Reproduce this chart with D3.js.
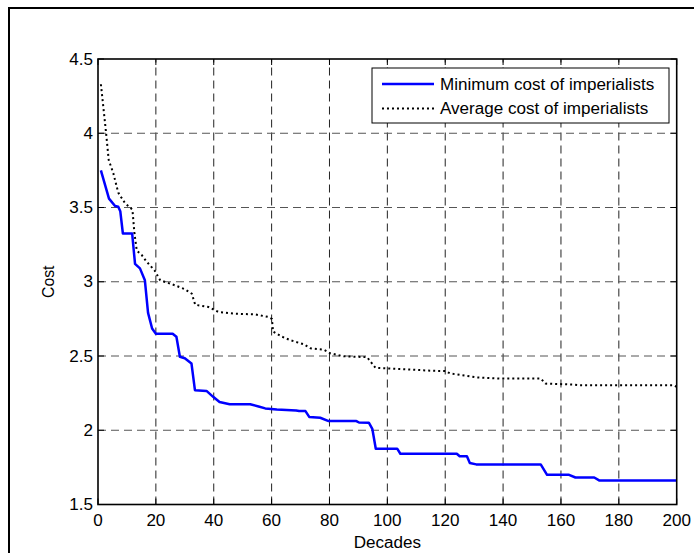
<!DOCTYPE html>
<html>
<head>
<meta charset="utf-8">
<script src="https://cdn.jsdelivr.net/npm/d3@7"></script>
<style>
  body { margin: 0; background: #fff; overflow: hidden; }
  svg { display: block; }
  text { font-family: "Liberation Sans", Arial, Helvetica, sans-serif; fill: #000; }
</style>
</head>
<body>
<div id="chart"></div>
<script>
// tick labels
const xTicks = [0, 20, 40, 60, 80, 100, 120, 140, 160, 180, 200];
const yTicks = [1.5, 2, 2.5, 3, 3.5, 4, 4.5];

// minimum cost of imperialists
const minDecades = [1, 3.8, 5.9, 7, 7.7, 8.6, 11.8, 12.8, 14.5, 16.2, 17.3, 18.7, 20, 25.8, 27.1, 28.3, 30,
  32.3, 33.5, 37.5, 39.8, 42, 45.5, 52.6, 55.5, 57.8, 61.8, 68.5, 69.5, 71.7, 73, 76.8, 79.7, 89.3, 90.2,
  93.6, 94.8, 96, 103.4, 104.5, 124, 125, 127.5, 128.5, 130.7, 153, 155.2, 162.8, 165, 171.5, 173.2, 200];
const minCost = [3.75, 3.56, 3.51, 3.505, 3.475, 3.325, 3.325, 3.12, 3.09, 3.01, 2.79, 2.685, 2.65, 2.65, 2.63,
  2.495, 2.485, 2.45, 2.27, 2.265, 2.225, 2.19, 2.175, 2.175, 2.16, 2.147, 2.139, 2.133, 2.129, 2.129, 2.09,
  2.084, 2.062, 2.062, 2.052, 2.051, 2.01, 1.876, 1.876, 1.842, 1.842, 1.825, 1.825, 1.78, 1.77, 1.77, 1.70,
  1.70, 1.682, 1.682, 1.662, 1.662];

// average cost of imperialists
const avgDecades = [1, 2.7, 3.7, 5.3, 7, 9.3, 11.9, 12.6, 13.4, 15.1, 16.8, 19.5, 21.5, 26.6, 30, 32.4, 33.6,
  38.2, 41.6, 47.4, 54.3, 58.9, 60.1, 60.5, 63.6, 66.5, 71.1, 73.4, 78, 80.3, 84.9, 93, 95.9, 101, 116, 120,
  121.8, 131, 139.1, 153, 154.7, 164, 166.5, 199, 200];
const avgCost = [4.33, 4.02, 3.82, 3.73, 3.6, 3.53, 3.485, 3.325, 3.21, 3.18, 3.135, 3.078, 3.01, 2.976, 2.95,
  2.92, 2.845, 2.83, 2.797, 2.785, 2.78, 2.763, 2.75, 2.665, 2.63, 2.606, 2.579, 2.552, 2.543, 2.518, 2.498,
  2.492, 2.42, 2.416, 2.40, 2.399, 2.382, 2.356, 2.348, 2.348, 2.314, 2.308, 2.303, 2.303, 2.292];

const seriesNames = ["Minimum cost of imperialists", "Average cost of imperialists"];

let W = 694, H = 553;
let PLOT_L = 98, PLOT_R = 676.7, PLOT_T = 59, PLOT_B = 504.5;
let FONT = 15.8, STRETCH = 1.08;

let svg = d3.select("#chart").append("svg").attr("width", W).attr("height", H);

// figure frame (right and bottom edges fall outside the picture)
svg.append("rect").attr("x", 9).attr("y", 8).attr("width", 720).attr("height", 600)
   .attr("fill", "none").attr("stroke", "#000").attr("stroke-width", 2);

let xScale = d3.scaleLinear().domain([0, 200]).range([PLOT_L, PLOT_R]);
let yScale = d3.scaleLinear().domain([1.5, 4.5]).range([PLOT_B, PLOT_T]);

function addText(x, y, str, anchor) {
  return svg.append("text")
    .attr("transform", "translate(" + x + "," + y + ") scale(" + STRETCH + ",1)")
    .attr("text-anchor", anchor)
    .style("font-size", FONT + "px")
    .text(str);
}

// grid
svg.append("g").selectAll("line").data(xTicks.slice(1, -1)).enter().append("line")
   .attr("x1", d => xScale(d)).attr("x2", d => xScale(d))
   .attr("y1", PLOT_B).attr("y2", PLOT_T)
   .attr("stroke", "#222").attr("stroke-width", 1).attr("stroke-dasharray", "8,5");
svg.append("g").selectAll("line").data(yTicks.slice(1, -1)).enter().append("line")
   .attr("x1", PLOT_L).attr("x2", PLOT_R)
   .attr("y1", d => yScale(d)).attr("y2", d => yScale(d))
   .attr("stroke", "#555").attr("stroke-width", 1).attr("stroke-dasharray", "8,5");

// inward ticks on all sides
let tickLen = 6;
let ticks = svg.append("g").attr("stroke", "#000").attr("stroke-width", 1);
xTicks.forEach(function(d) {
  ticks.append("line").attr("x1", xScale(d)).attr("x2", xScale(d)).attr("y1", PLOT_B).attr("y2", PLOT_B - tickLen);
  ticks.append("line").attr("x1", xScale(d)).attr("x2", xScale(d)).attr("y1", PLOT_T).attr("y2", PLOT_T + tickLen);
});
yTicks.forEach(function(d) {
  ticks.append("line").attr("x1", PLOT_L).attr("x2", PLOT_L + tickLen).attr("y1", yScale(d)).attr("y2", yScale(d));
  ticks.append("line").attr("x1", PLOT_R).attr("x2", PLOT_R - tickLen).attr("y1", yScale(d)).attr("y2", yScale(d));
});

// series
let line = d3.line().x(d => xScale(d[0])).y(d => yScale(d[1]));
let avgPts = d3.zip(avgDecades, avgCost);
let minPts = d3.zip(minDecades, minCost);

svg.append("path").datum(avgPts).attr("d", line)
   .attr("fill", "none").attr("stroke", "#000").attr("stroke-width", 2)
   .attr("stroke-dasharray", "2,3");
svg.append("path").datum(minPts).attr("d", line)
   .attr("fill", "none").attr("stroke", "#0000ff").attr("stroke-width", 2.5)
   .attr("stroke-linejoin", "round");

// axes box
svg.append("rect").attr("x", PLOT_L).attr("y", PLOT_T)
   .attr("width", PLOT_R - PLOT_L).attr("height", PLOT_B - PLOT_T)
   .attr("fill", "none").attr("stroke", "#000").attr("stroke-width", 1.6);

// tick labels
xTicks.forEach(d => addText(xScale(d), PLOT_B + 21, d, "middle"));
yTicks.forEach(d => addText(PLOT_L - 5, yScale(d) + 5.7, d, "end"));

// axis titles
addText((PLOT_L + PLOT_R) / 2, 548, "Decades", "middle");
svg.append("text").attr("transform", "translate(53.5," + ((PLOT_T + PLOT_B) / 2) + ") rotate(-90)")
   .attr("text-anchor", "middle").style("font-size", FONT + "px").text("Cost");

// legend
let LEG_X = 372, LEG_Y = 68, LEG_W = 297, LEG_H = 55;
let legend = svg.append("g");
legend.append("rect").attr("x", LEG_X).attr("y", LEG_Y).attr("width", LEG_W).attr("height", LEG_H)
      .attr("fill", "#fff").attr("stroke", "#000").attr("stroke-width", 1);
let rowY = [84, 108.5];
let legendStyle = [
  {stroke: "#0000ff", width: 2.5, dash: null},
  {stroke: "#000", width: 2, dash: "2,3"}
];
seriesNames.forEach(function(name, i) {
  legend.append("line").attr("x1", LEG_X + 10).attr("x2", LEG_X + 62)
        .attr("y1", rowY[i]).attr("y2", rowY[i])
        .attr("stroke", legendStyle[i].stroke).attr("stroke-width", legendStyle[i].width)
        .attr("stroke-dasharray", legendStyle[i].dash);
  addText(LEG_X + 68, rowY[i] + 5.7, name, "start");
});
</script>
</body>
</html>
